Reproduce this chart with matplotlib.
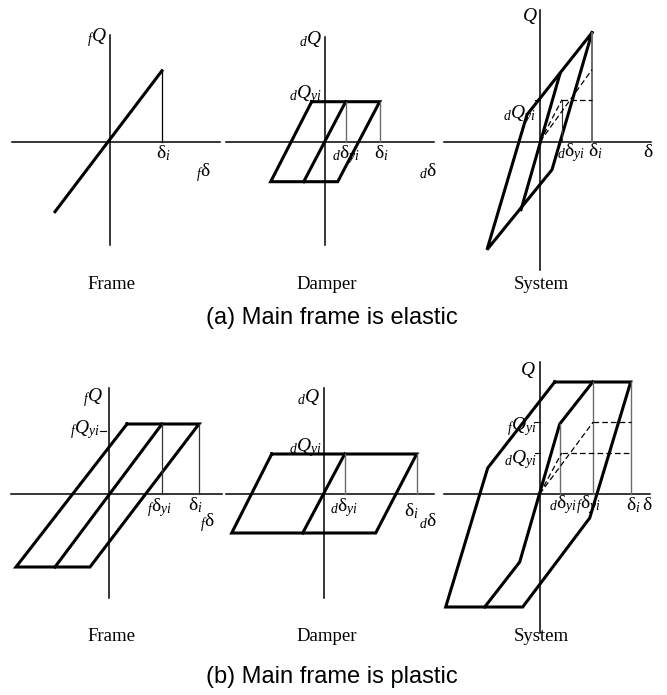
import matplotlib
matplotlib.use("Agg")
import matplotlib.pyplot as plt

plt.rcParams['mathtext.fontset'] = 'custom'
plt.rcParams['mathtext.rm'] = 'Liberation Serif'
plt.rcParams['mathtext.it'] = 'Liberation Serif:italic'

W, H = 667, 695

# ---- (a) main frame is elastic: loop corners (displacement, force) ----
frame_a_d = [-55, 52]
frame_a_q = [-70, 71]

damper_a_outer_d = [-13, 55, 13, -54, -13]
damper_a_outer_q = [40, 40, -40, -40, 40]
damper_a_mid_d = [-21, 21]
damper_a_mid_q = [-40, 40]

system_a_outer_d = [52, -13, -53, 12, 52]
system_a_outer_q = [109, 27, -108, -28, 109]
system_a_mid_d = [-19, 20]
system_a_mid_q = [-68, 68]
system_a_frame_pt = (52, 72)      # frame force at delta_i
system_a_damper_pt = (22, 42)     # damper yield point

# ---- (b) main frame is plastic ----
frame_b_outer_d = [18, 90, -19, -93, 18]
frame_b_outer_q = [70, 70, -73, -73, 70]
frame_b_mid_d = [-54, 53]
frame_b_mid_q = [-73, 70]

damper_b_outer_d = [-52, 93, 52, -92, -52]
damper_b_outer_q = [40, 40, -39, -39, 40]
damper_b_mid_d = [-21, 21]
damper_b_mid_q = [-39, 40]

system_b_outer_d = [15, 91, 50, -17, -94, -52, 15]
system_b_outer_q = [112, 112, -24, -113, -113, 26, 112]
system_b_inner_d = [-55, -20, 20, 53]
system_b_inner_q = [-113, -68, 70, 112]
system_b_frame_pt = (53.5, 72)
system_b_damper_pt = (22, 41)

fig = plt.figure(figsize=(W / 100, H / 100), dpi=100)

THICK = 2.2
AXLW = 1.1
GREY = '#6b6b6b'
DASH = (0, (4.5, 2.5))
FS = 14


def panel(ox, oy, xr, yr):
    # one transparent axes over the whole figure, origin at pixel (ox, oy)
    ax = fig.add_axes([0, 0, 1, 1])
    ax.set_xlim(-ox, W - ox)
    ax.set_ylim(oy - H, oy)
    ax.axis('off')
    ax.plot(xr, [0, 0], color='black', lw=AXLW)
    ax.plot([0, 0], yr, color='black', lw=AXLW)
    return ax


def label(ax, x, y, s, ha='left'):
    ax.text(x, y, s, ha=ha, va='baseline', fontsize=FS)


def vline(ax, x, top, color=GREY, lw=1.0):
    ax.plot([x, x], [0, top], color=color, lw=lw)


# (a) Frame
ax = panel(110, 141.7, [-98, 110], [-103, 107])
ax.plot(frame_a_d, frame_a_q, color='black', lw=THICK)
vline(ax, frame_a_d[1], frame_a_q[1], color='black', lw=0.9)
label(ax, -3, 100.7, r'${}_{f}Q$', ha='right')
label(ax, 46, -16.6, r'$\mathrm{\delta}_{i}$')
label(ax, 86, -35, r'${}_{f}\mathrm{\delta}$')

# (a) Damper
ax = panel(324.7, 141.7, [-99, 109], [-103, 105])
ax.plot(damper_a_outer_d, damper_a_outer_q, color='black', lw=THICK, solid_joinstyle='miter')
ax.plot(damper_a_mid_d, damper_a_mid_q, color='black', lw=THICK)
vline(ax, damper_a_mid_d[1], damper_a_mid_q[1])
vline(ax, damper_a_outer_d[1], damper_a_outer_q[1])
label(ax, -2.7, 97.7, r'${}_{d}Q$', ha='right')
label(ax, -2.7, 43.4, r'${}_{d}Q_{yi}$', ha='right')
label(ax, 7.3, -16.6, r'${}_{d}\mathrm{\delta}_{yi}$')
label(ax, 49, -16.6, r'$\mathrm{\delta}_{i}$')
label(ax, 94, -35, r'${}_{d}\mathrm{\delta}$')

# (a) System
ax = panel(540, 141.7, [-96, 111], [-128, 132])
ax.plot(system_a_outer_d, system_a_outer_q, color='black', lw=THICK, solid_joinstyle='miter')
ax.plot(system_a_mid_d, system_a_mid_q, color='black', lw=THICK)
vline(ax, system_a_outer_d[0], system_a_outer_q[0], lw=1.4)
vline(ax, system_a_damper_pt[0], system_a_damper_pt[1], color='#333333', lw=0.8)
ax.plot([0, system_a_frame_pt[0]], [0, system_a_frame_pt[1]], color='black', lw=0.9, ls=DASH)
ax.plot([0, system_a_damper_pt[0]], [0, system_a_damper_pt[1]], color='black', lw=0.9, ls=DASH)
ax.plot([system_a_damper_pt[0], system_a_outer_d[0]], [system_a_damper_pt[1]] * 2,
        color='black', lw=0.9, ls=DASH)
ax.plot([-5, 0], [system_a_damper_pt[1]] * 2, color='black', lw=0.8)
label(ax, -2.7, 120.4, r'$Q$', ha='right')
label(ax, -4.3, 23.7, r'${}_{d}Q_{yi}$', ha='right')
label(ax, 17.3, -15, r'${}_{d}\mathrm{\delta}_{yi}$')
label(ax, 48, -15, r'$\mathrm{\delta}_{i}$')
label(ax, 103.3, -15, r'$\mathrm{\delta}$')

# (b) Frame
ax = panel(109, 494, [-98, 113], [-104, 106])
ax.plot(frame_b_outer_d, frame_b_outer_q, color='black', lw=THICK, solid_joinstyle='miter')
ax.plot(frame_b_mid_d, frame_b_mid_q, color='black', lw=THICK)
vline(ax, frame_b_mid_d[1], frame_b_mid_q[1], color='#333333', lw=0.9)
vline(ax, frame_b_outer_d[1], frame_b_outer_q[1], color='#333333', lw=0.9)
ax.plot([-9, -3], [63, 63], color='black', lw=0.8)
label(ax, -5.7, 92.7, r'${}_{f}Q$', ha='right')
label(ax, -9, 61, r'${}_{f}Q_{yi}$', ha='right')
label(ax, 38, -17.7, r'${}_{f}\mathrm{\delta}_{yi}$')
label(ax, 79.3, -16.7, r'$\mathrm{\delta}_{i}$')
label(ax, 91, -32, r'${}_{f}\mathrm{\delta}$')

# (b) Damper
ax = panel(323.7, 494, [-98, 110], [-104, 106])
ax.plot(damper_b_outer_d, damper_b_outer_q, color='black', lw=THICK, solid_joinstyle='miter')
ax.plot(damper_b_mid_d, damper_b_mid_q, color='black', lw=THICK)
vline(ax, damper_b_mid_d[1], damper_b_mid_q[1])
vline(ax, damper_b_outer_d[1], damper_b_outer_q[1])
label(ax, -3.4, 92.3, r'${}_{d}Q$', ha='right')
label(ax, -1.7, 42.3, r'${}_{d}Q_{yi}$', ha='right')
label(ax, 6.6, -17.7, r'${}_{d}\mathrm{\delta}_{yi}$')
label(ax, 80, -22.7, r'$\mathrm{\delta}_{i}$')
label(ax, 95, -32.7, r'${}_{d}\mathrm{\delta}$')

# (b) System
ax = panel(539.7, 494, [-96, 110], [-139, 132])
ax.plot(system_b_outer_d, system_b_outer_q, color='black', lw=THICK, solid_joinstyle='miter')
ax.plot(system_b_inner_d, system_b_inner_q, color='black', lw=THICK, solid_joinstyle='miter')
vline(ax, system_b_inner_d[2], system_b_inner_q[2])
vline(ax, system_b_inner_d[3], system_b_inner_q[3])
vline(ax, system_b_outer_d[1], system_b_outer_q[1])
for px, py in (system_b_frame_pt, system_b_damper_pt):
    ax.plot([0, px], [0, py], color='black', lw=0.9, ls=DASH)
    ax.plot([px, system_b_outer_d[1]], [py, py], color='black', lw=0.9, ls=DASH)
    ax.plot([-5, 0], [py, py], color='black', lw=0.8)
label(ax, -4, 119, r'$Q$', ha='right')
label(ax, -3, 64, r'${}_{f}Q_{yi}$', ha='right')
label(ax, -3, 30.7, r'${}_{d}Q_{yi}$', ha='right')
label(ax, 9.3, -14, r'${}_{d}\mathrm{\delta}_{yi}$')
label(ax, 36, -14, r'${}_{f}\mathrm{\delta}_{yi}$')
label(ax, 86, -16, r'$\mathrm{\delta}_{i}$')
label(ax, 102, -16, r'$\mathrm{\delta}$')

# panel names and captions
for name, cx in (('Frame', 111), ('Damper', 326.7), ('System', 541.7)):
    fig.text(cx / W, 1 - 289 / H, name, ha='center', va='baseline',
             family='Liberation Serif', fontsize=13.5)
    fig.text(cx / W, 1 - 640.7 / H, name, ha='center', va='baseline',
             family='Liberation Serif', fontsize=13.5)

fig.text(332 / W, 1 - 324 / H, '(a) Main frame is elastic', ha='center', va='baseline',
         family='Liberation Sans', fontsize=17)
fig.text(332 / W, 1 - 683.3 / H, '(b) Main frame is plastic', ha='center', va='baseline',
         family='Liberation Sans', fontsize=17)

fig.savefig('out.png', dpi=100)
